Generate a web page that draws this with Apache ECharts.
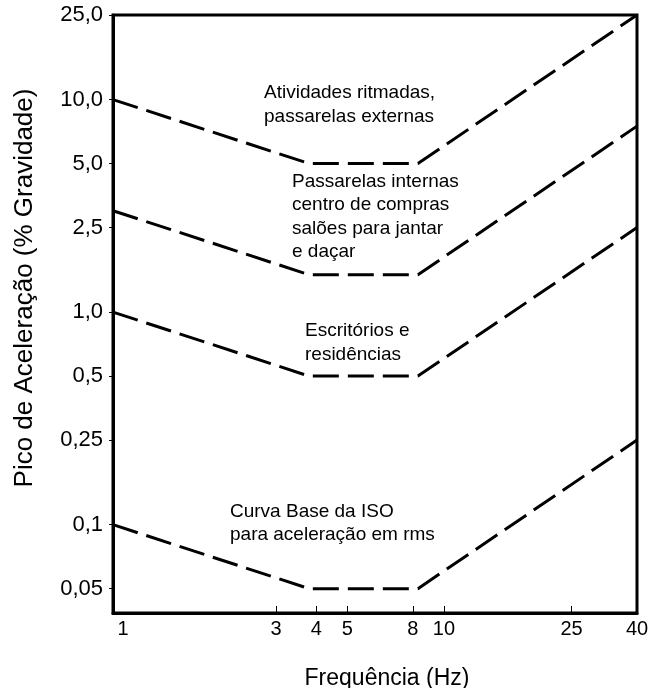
<!DOCTYPE html>
<html>
<head>
<meta charset="utf-8">
<script src="https://cdn.jsdelivr.net/npm/echarts@6/dist/echarts.min.js"></script>
<style>
html, body { margin: 0; padding: 0; background: #fff; }
#main { width: 650px; height: 688px; }
</style>
</head>
<body>
<div id="main"></div>
<script>
// frequências dos vértices (Hz), iguais para as quatro curvas
var freqs = [0.93, 3.8, 8.3, 40];
// pico de aceleração (% gravidade) de cada curva
var ritmadas = [10, 5, 5, 25];
var internas = [3, 1.5, 1.5, 7.5];
var escritorios = [1, 0.5, 0.5, 2.5];
var baseISO = [0.1, 0.05, 0.05, 0.25];

var xTicks = [1, 3, 4, 5, 8, 10, 25, 40];
var xTickLabels = ['1', '3', '4', '5', '8', '10', '25', '40'];
var xTickMarks = [3, 4, 5, 8, 10, 25];
var yTicks = [0.05, 0.1, 0.25, 0.5, 1, 2.5, 5, 10, 25];
var yTickLabels = ['0,05', '0,1', '0,25', '0,5', '1,0', '2,5', '5,0', '10,0', '25,0'];

var FONT = '"Liberation Sans", Arial, Helvetica, sans-serif';

// procura o rótulo do tick mais próximo (escala log)
function pickLabel(ticks, labels) {
  return function (v) {
    var best = 0, d = Infinity;
    ticks.forEach(function (t, i) {
      var dd = Math.abs(Math.log(v) - Math.log(t));
      if (dd < d) { d = dd; best = i; }
    });
    return labels[best];
  };
}

function curve(ys) {
  return {
    type: 'line',
    symbol: 'none',
    silent: true,
    data: freqs.map(function (f, i) { return [f, ys[i]]; }),
    lineStyle: { color: '#000', width: 3, type: [26, 9] },
  };
}

var chart = echarts.init(document.getElementById('main'));
chart.setOption({
  animation: false,
  grid: {
    left: 113, right: 13, top: 15, bottom: 75,
    outerBoundsMode: 'none',
    show: true, borderColor: '#000', borderWidth: 3,
  },
  xAxis: {
    type: 'log',
    min: 0.93,
    max: 40,
    name: 'Frequência (Hz)',
    nameLocation: 'middle',
    nameGap: 54,
    nameTextStyle: { color: '#000', fontSize: 23, fontFamily: FONT, padding: [0, 0, 0, 24] },
    axisLine: { show: true, lineStyle: { color: '#000', width: 3 } },
    axisTick: { show: true, inside: true, length: 7, customValues: xTickMarks, lineStyle: { color: '#000', width: 1 } },
    axisLabel: {
      customValues: xTicks,
      formatter: pickLabel(xTicks, xTickLabels),
      color: '#000', fontSize: 20, fontFamily: FONT, margin: 6,
    },
    splitLine: { show: false },
    minorTick: { show: false },
  },
  yAxis: {
    type: 'log',
    min: 0.0384,
    max: 25,
    name: 'Pico de Aceleração (% Gravidade)',
    nameLocation: 'middle',
    nameGap: 75,
    nameRotate: 90,
    nameTextStyle: { color: '#000', fontSize: 26, fontFamily: FONT, padding: [0, 0, 0, 52] },
    axisLine: { show: true, lineStyle: { color: '#000', width: 3 } },
    axisTick: { show: true, inside: false, length: 4, customValues: yTicks, lineStyle: { color: '#000', width: 1 } },
    axisLabel: {
      customValues: yTicks,
      formatter: pickLabel(yTicks, yTickLabels),
      color: '#000', fontSize: 22, fontFamily: FONT, margin: 10,
    },
    splitLine: { show: false },
  },
  series: [curve(ritmadas), curve(internas), curve(escritorios), curve(baseISO)],
  graphic: [
    {
      type: 'text', left: 264, top: 81,
      style: { text: 'Atividades ritmadas,\npassarelas externas', fill: '#000', fontSize: 19, fontFamily: FONT, lineHeight: 24 },
    },
    {
      type: 'text', left: 292, top: 170,
      style: { text: 'Passarelas internas\ncentro de compras\nsalões para jantar\ne daçar', fill: '#000', fontSize: 19, fontFamily: FONT, lineHeight: 23.5 },
    },
    {
      type: 'text', left: 305, top: 319,
      style: { text: 'Escritórios e\nresidências', fill: '#000', fontSize: 19, fontFamily: FONT, lineHeight: 24 },
    },
    {
      type: 'text', left: 230, top: 500,
      style: { text: 'Curva Base da ISO\npara aceleração em rms', fill: '#000', fontSize: 19, fontFamily: FONT, lineHeight: 23.5 },
    },
  ],
});
</script>
</body>
</html>
